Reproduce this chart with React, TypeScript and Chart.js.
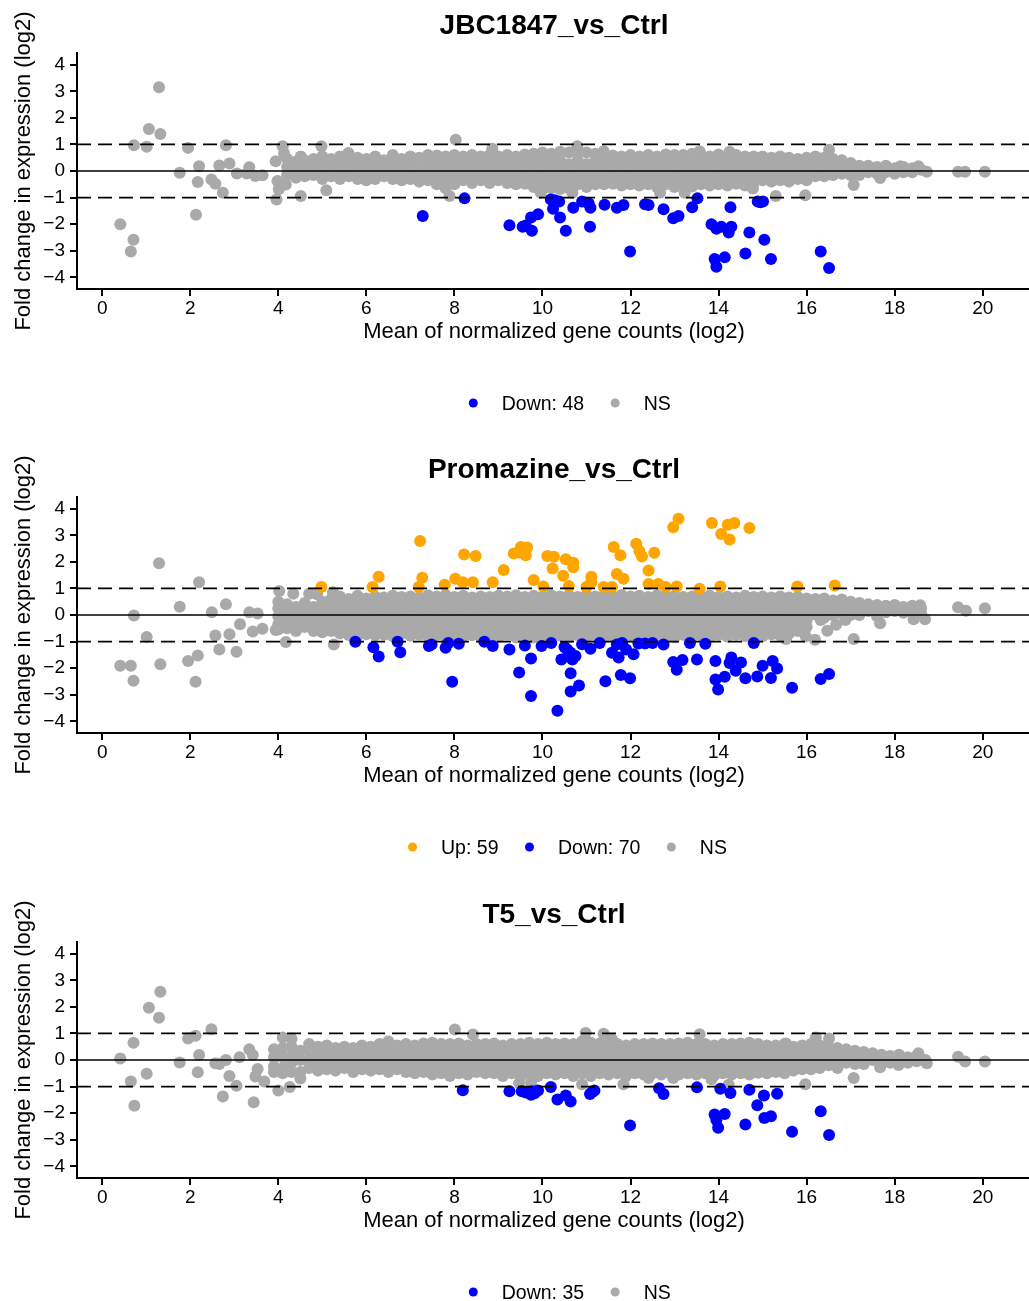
import React, { useEffect, useRef } from 'react';
import { Chart, registerables } from 'chart.js';

Chart.register(...registerables);

const FONT = "'Liberation Sans', Arial, Helvetica, sans-serif";
const COLOR_UP = '#FFA500';
const COLOR_DOWN = '#0000FF';
const COLOR_NS = '#A9A9A9';

// ---------- shared axis data ----------
const xTicks = [0, 2, 4, 6, 8, 10, 12, 14, 16, 18, 20];
const yTicks = [-4, -3, -2, -1, 0, 1, 2, 3, 4];
const xRange = [-0.573, 21.097];
const yRange = [-4.44, 4.44];
const refLines = [0, 1, -1];
const xLabel = 'Mean of normalized gene counts (log2)';
const yLabel = 'Fold change in expression (log2)';

type Pt = [number, number];

// ---------- JBC1847_vs_Ctrl ----------
const jbcTitle = 'JBC1847_vs_Ctrl';
const jbcLabels = ['Down: 48', 'NS'];
const jbcDown: Pt[] = [
  [7.28, -1.69], [8.23, -1.03], [9.25, -2.04], [9.55, -2.1], [9.62, -2.05], [9.76, -2.25], [9.74, -1.75], [9.9, -1.63],
  [10.19, -1.07], [10.28, -1.1], [10.38, -1.15], [10.24, -1.42], [10.4, -1.75], [10.53, -2.25], [10.7, -1.38], [10.9, -1.15],
  [11.09, -1.38], [11.08, -2.1], [11.05, -1.22], [11.41, -1.27], [11.69, -1.38], [11.84, -1.28], [11.99, -3.03], [12.33, -1.25],
  [12.41, -1.28], [12.75, -1.44], [12.97, -1.78], [13.09, -1.69], [13.4, -1.36], [13.52, -1.03], [13.84, -2.0], [13.95, -2.17],
  [14.06, -2.1], [14.23, -2.31], [14.27, -1.36], [14.29, -2.1], [13.91, -3.31], [13.95, -3.6], [14.14, -3.25], [14.61, -3.1],
  [14.7, -2.31], [14.89, -1.15], [14.95, -1.18], [15.01, -1.15], [15.04, -2.59], [15.19, -3.31], [16.32, -3.03], [16.51, -3.65],
];
const jbcNsSparse: Pt[] = [
  [0.41, -2.0], [0.71, -2.59], [0.65, -3.03], [0.72, 0.97], [1.01, 0.91], [1.06, 1.58], [1.29, 3.15], [1.32, 1.39],
  [1.76, -0.07], [1.95, 0.87], [2.13, -1.65], [2.17, -0.41], [2.2, 0.18], [2.48, -0.32], [2.57, -0.48], [2.66, 0.21],
  [2.74, -0.82], [2.81, 0.97], [2.89, 0.28], [3.06, -0.09], [3.28, -0.09], [3.34, 0.14], [3.48, -0.19], [3.64, -0.16],
  [3.94, 0.37], [3.98, -0.38], [4.01, -0.69], [3.96, -1.07], [4.1, 0.93], [4.17, -0.51], [4.13, 0.66], [4.51, -0.94],
  [4.51, 0.55], [4.98, 0.93], [5.09, -0.72], [5.59, 0.68], [7.89, -0.94], [8.03, 1.18], [8.86, 0.84], [10.79, 0.93],
  [11.39, 0.74], [9.96, -0.82], [10.68, -0.82], [12.67, -0.82], [13.23, -0.82], [13.57, 0.74], [14.25, 0.72], [14.78, -0.66],
  [15.3, -0.94], [15.97, -0.91], [16.51, 0.8], [17.07, -0.53], [17.67, -0.26], [18.13, 0.18], [18.54, 0.18], [18.73, -0.03],
  [19.44, -0.03], [19.6, -0.03], [20.05, -0.03],
];
// dense NS cloud, one column per x: [x, y1, y2, ...]
const jbcNsCloud: number[][] = [
  [4.2, 0.45, 0.15, -0.15], [4.4, 0.35, 0.05, -0.25], [4.6, 0.4, 0.1, -0.2], [4.8, 0.45, 0.15, -0.15],
  [5.0, 0.55, 0.25, -0.05, -0.3], [5.2, 0.45, 0.1, -0.2], [5.4, 0.55, 0.25, -0.05, -0.3], [5.6, 0.45, 0.1, -0.2],
  [5.8, 0.5, 0.25, -0.05, -0.3], [6.0, 0.45, 0.1, -0.2, -0.35], [6.2, 0.55, 0.25, -0.05, -0.3], [6.4, 0.4, 0.1, -0.2],
  [6.6, 0.6, 0.25, -0.05, -0.3], [6.8, 0.45, 0.1, -0.2, -0.35], [7.0, 0.55, 0.25, -0.05, -0.3], [7.2, 0.5, 0.1, -0.2, -0.4],
  [7.4, 0.6, 0.25, -0.05, -0.35], [7.6, 0.58, 0.4, 0.1, -0.2, -0.5], [7.8, 0.55, 0.25, -0.05, -0.35, -0.65],
  [8.0, 0.6, 0.4, 0.1, -0.2, -0.5], [8.2, 0.55, 0.25, -0.05, -0.35], [8.4, 0.6, 0.4, 0.1, -0.2, -0.45],
  [8.6, 0.55, 0.25, -0.05, -0.35], [8.8, 0.6, 0.4, 0.1, -0.2, -0.45], [9.0, 0.55, 0.25, -0.05, -0.35],
  [9.2, 0.6, 0.4, 0.1, -0.2, -0.45], [9.4, 0.55, 0.25, -0.05, -0.35, -0.5], [9.6, 0.62, 0.4, 0.1, -0.2, -0.48],
  [9.8, 0.65, 0.25, -0.05, -0.35, -0.6], [10.0, 0.7, 0.4, 0.1, -0.2, -0.5, -0.7], [10.2, 0.65, 0.25, -0.05, -0.35, -0.65],
  [10.4, 0.72, 0.4, 0.1, -0.2, -0.5, -0.68], [10.6, 0.7, 0.25, -0.05, -0.35, -0.65], [10.8, 0.75, 0.4, 0.1, -0.2, -0.5],
  [11.0, 0.7, 0.25, -0.05, -0.35, -0.6], [11.2, 0.65, 0.4, 0.1, -0.2, -0.5], [11.4, 0.6, 0.25, -0.05, -0.35, -0.5],
  [11.6, 0.58, 0.4, 0.1, -0.2, -0.48], [11.8, 0.55, 0.25, -0.05, -0.35, -0.55], [12.0, 0.6, 0.4, 0.1, -0.2, -0.5],
  [12.2, 0.55, 0.25, -0.05, -0.35, -0.55], [12.4, 0.6, 0.4, 0.1, -0.2, -0.5], [12.6, 0.55, 0.25, -0.05, -0.35, -0.6],
  [12.8, 0.62, 0.4, 0.1, -0.2, -0.5], [13.0, 0.6, 0.25, -0.05, -0.35, -0.6], [13.2, 0.6, 0.4, 0.1, -0.2, -0.5],
  [13.4, 0.65, 0.25, -0.05, -0.35, -0.58], [13.6, 0.6, 0.4, 0.1, -0.2, -0.5], [13.8, 0.55, 0.25, -0.05, -0.35, -0.55],
  [14.0, 0.62, 0.4, 0.1, -0.2, -0.5], [14.2, 0.55, 0.25, -0.05, -0.35, -0.55], [14.4, 0.6, 0.4, 0.1, -0.2, -0.48],
  [14.6, 0.55, 0.25, -0.05, -0.35, -0.55], [14.8, 0.55, 0.4, 0.1, -0.2, -0.45], [15.0, 0.55, 0.25, -0.05, -0.35],
  [15.2, 0.5, 0.35, 0.1, -0.2, -0.4], [15.4, 0.55, 0.25, -0.05, -0.35], [15.6, 0.5, 0.35, 0.1, -0.2, -0.4],
  [15.8, 0.45, 0.25, -0.05, -0.3], [16.0, 0.5, 0.35, 0.1, -0.2, -0.35], [16.2, 0.55, 0.25, -0.05, -0.2],
  [16.4, 0.5, 0.3, 0.05, -0.2], [16.6, 0.45, 0.2, -0.05, -0.15], [16.8, 0.4, 0.15, -0.1], [17.0, 0.3, 0.05, -0.15],
  [17.2, 0.2, -0.05, -0.15], [17.4, 0.2, -0.05], [17.6, 0.15, -0.1], [17.8, 0.2, -0.05], [18.0, 0.1, -0.1],
  [18.2, 0.15, -0.05], [18.4, 0.1, -0.05], [18.6, 0.05],
];

// ---------- Promazine_vs_Ctrl ----------
const promTitle = 'Promazine_vs_Ctrl';
const promLabels = ['Up: 59', 'Down: 70', 'NS'];
const promUp: Pt[] = [
  [4.98, 1.05], [6.14, 1.05], [6.28, 1.44], [7.22, 2.78], [7.27, 1.4], [7.19, 1.05], [7.78, 1.14], [8.02, 1.36],
  [8.22, 2.28], [8.48, 2.22], [8.19, 1.23], [8.42, 1.23], [8.87, 1.23], [9.12, 1.69], [9.35, 2.31], [9.48, 2.35],
  [9.51, 2.56], [9.65, 2.54], [9.62, 2.25], [9.8, 1.32], [10.02, 1.07], [10.11, 2.22], [10.26, 2.19], [10.23, 1.75],
  [10.47, 1.48], [10.53, 2.1], [10.7, 1.97], [10.7, 1.8], [10.6, 1.09], [11.0, 1.05], [11.11, 1.44], [11.11, 1.23],
  [11.39, 1.05], [11.62, 2.56], [11.77, 2.25], [11.69, 1.54], [11.84, 1.36], [11.58, 1.05], [12.13, 2.68], [12.2, 2.41],
  [12.26, 2.2], [12.54, 2.34], [12.41, 1.67], [12.41, 1.17], [12.63, 1.17], [12.8, 1.05], [12.97, 3.3], [13.09, 3.62],
  [13.05, 1.07], [13.57, 0.99], [13.85, 3.46], [14.21, 3.4], [14.36, 3.46], [14.06, 3.05], [14.25, 2.84], [14.7, 3.27],
  [14.04, 1.07], [15.79, 1.07], [16.64, 1.11],
];
const promDown: Pt[] = [
  [5.75, -1.01], [6.16, -1.21], [6.28, -1.56], [6.71, -1.01], [6.77, -1.4], [7.42, -1.17], [7.48, -1.11], [7.8, -1.23],
  [7.86, -1.05], [7.95, -2.51], [8.1, -1.08], [8.68, -1.01], [8.87, -1.17], [9.25, -1.3], [9.47, -2.16], [9.6, -1.15],
  [9.74, -1.64], [9.74, -3.05], [9.98, -1.17], [10.2, -1.05], [10.34, -3.6], [10.43, -1.67], [10.5, -1.2], [10.56, -1.3],
  [10.64, -1.42], [10.68, -1.67], [10.75, -1.54], [10.64, -2.19], [10.83, -2.65], [10.64, -2.88], [10.9, -1.1], [11.09, -1.27],
  [11.3, -1.05], [11.43, -2.49], [11.58, -1.42], [11.69, -1.11], [11.73, -1.6], [11.81, -1.05], [11.78, -2.26], [11.9, -1.3],
  [11.99, -2.38], [12.07, -1.48], [12.18, -1.07], [12.33, -1.07], [12.5, -1.05], [12.75, -1.11], [12.97, -1.77], [13.18, -1.69],
  [13.05, -2.06], [13.35, -1.05], [13.51, -1.67], [13.7, -1.08], [13.93, -1.73], [14.29, -1.6], [14.25, -1.81], [14.51, -1.79],
  [14.39, -2.1], [13.93, -2.43], [13.99, -2.8], [14.14, -2.32], [14.61, -2.38], [14.8, -1.05], [14.88, -2.31], [15.0, -1.91],
  [15.23, -1.73], [15.33, -2.01], [15.19, -2.37], [15.67, -2.74], [16.32, -2.41], [16.51, -2.22],
];
const promNsSparse: Pt[] = [
  [0.72, -0.02], [1.29, 1.95], [2.2, 1.23], [1.76, 0.31], [2.49, 0.1], [2.81, 0.4], [1.01, -0.83], [0.41, -1.91],
  [0.65, -1.91], [0.71, -2.47], [1.32, -1.85], [1.95, -1.73], [2.17, -1.52], [2.12, -2.51], [2.57, -0.77], [2.66, -1.3],
  [2.89, -0.72], [3.05, -1.38], [3.13, -0.35], [3.34, 0.1], [3.53, 0.06], [3.42, -0.62], [3.64, -0.52], [4.02, 0.9],
  [4.34, 0.8], [4.17, -1.02], [3.94, -0.56], [4.7, 0.8], [4.88, 0.78], [5.26, -1.11], [5.24, 0.86], [19.44, 0.29],
  [19.62, 0.16], [20.05, 0.25], [18.69, -0.16], [18.43, -0.16], [18.58, 0.37], [17.67, -0.31], [17.07, -0.9], [16.47, -0.59],
  [16.67, -0.37], [16.19, -0.93], [16.32, -0.19], [16.88, -0.19], [15.53, -0.9], [15.98, -0.8],
];
const promNsCloud: number[][] = [
  [4.0, 0.5, 0.25, -0.05, -0.35, -0.55], [4.2, 0.4, 0.1, -0.2, -0.5], [4.4, 0.3, 0.0, -0.3, -0.6],
  [4.6, 0.45, 0.15, -0.15, -0.45], [4.8, 0.3, 0.0, -0.3, -0.6], [5.0, 0.5, 0.2, -0.1, -0.4, -0.65],
  [5.2, 0.6, 0.3, 0.0, -0.3, -0.6], [5.4, 0.7, 0.45, 0.15, -0.15, -0.45, -0.7], [5.6, 0.6, 0.3, 0.0, -0.3, -0.6, -0.75],
  [5.8, 0.72, 0.52, 0.24, -0.04, -0.32, -0.6, -0.78], [6.0, 0.62, 0.38, 0.1, -0.18, -0.46, -0.72],
  [6.2, 0.7, 0.52, 0.24, -0.04, -0.32, -0.6, -0.75], [6.4, 0.66, 0.38, 0.1, -0.18, -0.46, -0.74],
  [6.6, 0.72, 0.52, 0.24, -0.04, -0.32, -0.6, -0.8], [6.8, 0.68, 0.38, 0.1, -0.18, -0.46, -0.7],
  [7.0, 0.7, 0.52, 0.24, -0.04, -0.32, -0.6, -0.78], [7.2, 0.66, 0.38, 0.1, -0.18, -0.46, -0.74],
  [7.4, 0.74, 0.52, 0.24, -0.04, -0.32, -0.6, -0.8], [7.6, 0.7, 0.38, 0.1, -0.18, -0.46, -0.74],
  [7.8, 0.75, 0.52, 0.24, -0.04, -0.32, -0.6, -0.82], [8.0, 0.68, 0.38, 0.1, -0.18, -0.46, -0.74],
  [8.2, 0.72, 0.52, 0.24, -0.04, -0.32, -0.6, -0.8], [8.4, 0.66, 0.38, 0.1, -0.18, -0.46, -0.76],
  [8.6, 0.7, 0.52, 0.24, -0.04, -0.32, -0.6, -0.82], [8.8, 0.68, 0.38, 0.1, -0.18, -0.46, -0.76],
  [9.0, 0.72, 0.52, 0.24, -0.04, -0.32, -0.6, -0.84], [9.2, 0.7, 0.38, 0.1, -0.18, -0.46, -0.74],
  [9.4, 0.74, 0.52, 0.24, -0.04, -0.32, -0.6, -0.85], [9.6, 0.68, 0.38, 0.1, -0.18, -0.46, -0.74],
  [9.8, 0.72, 0.52, 0.24, -0.04, -0.32, -0.6, -0.85], [10.0, 0.7, 0.38, 0.1, -0.18, -0.46, -0.76],
  [10.2, 0.74, 0.52, 0.24, -0.04, -0.32, -0.6, -0.86], [10.4, 0.7, 0.38, 0.1, -0.18, -0.46, -0.78],
  [10.6, 0.72, 0.52, 0.24, -0.04, -0.32, -0.6, -0.85], [10.8, 0.68, 0.38, 0.1, -0.18, -0.46, -0.76],
  [11.0, 0.74, 0.52, 0.24, -0.04, -0.32, -0.6, -0.85], [11.2, 0.7, 0.38, 0.1, -0.18, -0.46, -0.76],
  [11.4, 0.72, 0.52, 0.24, -0.04, -0.32, -0.6, -0.84], [11.6, 0.7, 0.38, 0.1, -0.18, -0.46, -0.78],
  [11.8, 0.75, 0.52, 0.24, -0.04, -0.32, -0.6, -0.86], [12.0, 0.7, 0.38, 0.1, -0.18, -0.46, -0.76],
  [12.2, 0.72, 0.52, 0.24, -0.04, -0.32, -0.6, -0.84], [12.4, 0.68, 0.38, 0.1, -0.18, -0.46, -0.76],
  [12.6, 0.74, 0.52, 0.24, -0.04, -0.32, -0.6, -0.85], [12.8, 0.7, 0.38, 0.1, -0.18, -0.46, -0.76],
  [13.0, 0.72, 0.52, 0.24, -0.04, -0.32, -0.6, -0.84], [13.2, 0.68, 0.38, 0.1, -0.18, -0.46, -0.74],
  [13.4, 0.7, 0.52, 0.24, -0.04, -0.32, -0.6, -0.82], [13.6, 0.7, 0.38, 0.1, -0.18, -0.46, -0.76],
  [13.8, 0.72, 0.52, 0.24, -0.04, -0.32, -0.6, -0.84], [14.0, 0.68, 0.38, 0.1, -0.18, -0.46, -0.74],
  [14.2, 0.7, 0.52, 0.24, -0.04, -0.32, -0.6, -0.82], [14.4, 0.66, 0.38, 0.1, -0.18, -0.46, -0.74],
  [14.6, 0.72, 0.52, 0.24, -0.04, -0.32, -0.6, -0.8], [14.8, 0.68, 0.38, 0.1, -0.18, -0.46, -0.74],
  [15.0, 0.7, 0.52, 0.24, -0.04, -0.32, -0.6, -0.8], [15.2, 0.66, 0.38, 0.1, -0.18, -0.46, -0.72],
  [15.4, 0.7, 0.52, 0.24, -0.04, -0.32, -0.6, -0.78], [15.6, 0.66, 0.38, 0.1, -0.18, -0.46, -0.7],
  [15.8, 0.68, 0.5, 0.24, -0.04, -0.32, -0.6], [16.0, 0.62, 0.35, 0.08, -0.2, -0.45],
  [16.2, 0.6, 0.3, 0.02], [16.4, 0.62, 0.35, 0.08, -0.1], [16.6, 0.55, 0.28, 0.0], [16.8, 0.58, 0.3, 0.05],
  [17.0, 0.5, 0.25, 0.0], [17.2, 0.45, 0.2, 0.0], [17.4, 0.4, 0.15], [17.6, 0.38, 0.12, -0.05], [17.8, 0.35, 0.1],
  [18.0, 0.38, 0.15], [18.2, 0.3, 0.08], [18.4, 0.35, 0.1], [18.6, 0.25, 0.05],
];

// ---------- T5_vs_Ctrl ----------
const t5Title = 'T5_vs_Ctrl';
const t5Labels = ['Down: 35', 'NS'];
const t5Down: Pt[] = [
  [8.19, -1.14], [9.25, -1.18], [9.53, -1.18], [9.62, -1.22], [9.74, -1.31], [9.77, -1.18], [9.82, -1.25], [9.9, -1.15],
  [10.19, -1.02], [10.34, -1.49], [10.53, -1.34], [10.64, -1.56], [11.08, -1.28], [11.13, -1.2], [11.18, -1.15], [11.99, -2.46],
  [12.65, -1.06], [12.75, -1.28], [13.51, -1.03], [14.04, -1.08], [14.27, -1.24], [13.91, -2.05], [13.99, -2.55], [14.14, -2.03],
  [13.95, -2.26], [14.61, -2.43], [14.7, -1.12], [14.88, -1.7], [15.03, -1.34], [15.04, -2.18], [15.19, -2.12], [15.33, -1.27],
  [15.67, -2.7], [16.32, -1.93], [16.51, -2.82],
];
const t5NsSparse: Pt[] = [
  [0.41, 0.06], [0.71, 0.65], [0.65, -0.81], [0.73, -1.72], [1.01, -0.52], [1.06, 1.97], [1.29, 1.59], [1.32, 2.57],
  [1.76, -0.09], [1.95, 0.81], [2.12, 0.91], [2.17, -0.46], [2.2, 0.19], [2.48, 1.16], [2.57, -0.12], [2.66, -0.15],
  [2.74, -1.37], [2.81, 0.0], [2.89, -0.6], [3.05, -0.97], [3.12, 0.1], [3.34, 0.4], [3.42, 0.19], [3.44, -1.59],
  [3.53, -0.34], [3.48, -0.62], [3.68, -0.81], [4.0, -1.15], [4.26, -1.02], [8.01, 1.15], [8.42, 0.96], [10.98, 1.02],
  [11.39, 0.99], [11.58, 0.77], [13.57, 0.97], [16.21, 0.85], [16.51, 0.81], [15.53, 0.62], [17.07, -0.68], [15.97, -0.91],
  [17.67, -0.27], [18.09, -0.19], [19.44, 0.12], [19.6, -0.06], [20.05, -0.06], [18.73, -0.12], [18.54, 0.25], [9.47, -0.87],
  [9.74, -0.85], [10.9, -0.91], [11.84, -0.91], [12.41, -0.68], [13.84, -0.72], [14.23, -0.93], [12.97, -0.68],
];
const t5NsCloud: number[][] = [
  [3.9, 0.4, 0.1, -0.25, -0.45], [4.1, 0.85, 0.45, 0.1, -0.3, -0.5], [4.3, 0.8, 0.5, 0.15, -0.1, -0.45],
  [4.5, 0.35, 0.0, -0.45, -0.7], [4.7, 0.6, 0.3, 0.0, -0.3], [4.9, 0.5, 0.2, -0.1, -0.4], [5.1, 0.55, 0.25, -0.05, -0.35],
  [5.3, 0.45, 0.15, -0.15, -0.4], [5.5, 0.5, 0.25, -0.05, -0.3], [5.7, 0.45, 0.1, -0.2, -0.45],
  [5.9, 0.55, 0.25, -0.05, -0.35], [6.1, 0.5, 0.1, -0.2, -0.4], [6.3, 0.6, 0.25, -0.05, -0.35],
  [6.5, 0.7, 0.4, 0.1, -0.2, -0.45], [6.7, 0.55, 0.25, -0.05, -0.35], [6.9, 0.6, 0.4, 0.1, -0.2, -0.45],
  [7.1, 0.55, 0.25, -0.05, -0.35, -0.5], [7.3, 0.62, 0.4, 0.1, -0.2, -0.45], [7.5, 0.65, 0.25, -0.05, -0.35, -0.55],
  [7.7, 0.6, 0.4, 0.1, -0.2, -0.5], [7.9, 0.6, 0.25, -0.05, -0.35, -0.6], [8.1, 0.62, 0.4, 0.1, -0.2, -0.5],
  [8.3, 0.55, 0.25, -0.05, -0.35, -0.55], [8.5, 0.6, 0.4, 0.1, -0.2, -0.45], [8.7, 0.6, 0.25, -0.05, -0.35, -0.5],
  [8.9, 0.62, 0.4, 0.1, -0.2, -0.5], [9.1, 0.55, 0.25, -0.05, -0.35, -0.6], [9.3, 0.6, 0.4, 0.1, -0.2, -0.5],
  [9.5, 0.6, 0.25, -0.05, -0.35, -0.62], [9.7, 0.65, 0.4, 0.1, -0.2, -0.5], [9.9, 0.6, 0.25, -0.05, -0.35, -0.6],
  [10.1, 0.65, 0.4, 0.1, -0.2, -0.5], [10.3, 0.6, 0.25, -0.05, -0.35, -0.55], [10.5, 0.62, 0.4, 0.1, -0.2, -0.5],
  [10.7, 0.6, 0.25, -0.05, -0.35, -0.6], [10.9, 0.7, 0.4, 0.1, -0.2, -0.5], [11.1, 0.65, 0.25, -0.05, -0.35, -0.6],
  [11.3, 0.62, 0.4, 0.1, -0.2, -0.5], [11.5, 0.6, 0.25, -0.05, -0.35, -0.55], [11.7, 0.6, 0.4, 0.1, -0.2, -0.5],
  [11.9, 0.55, 0.25, -0.05, -0.35, -0.6], [12.1, 0.6, 0.4, 0.1, -0.2, -0.5], [12.3, 0.6, 0.25, -0.05, -0.35, -0.55],
  [12.5, 0.62, 0.4, 0.1, -0.2, -0.5], [12.7, 0.6, 0.25, -0.05, -0.35, -0.55], [12.9, 0.6, 0.4, 0.1, -0.2, -0.48],
  [13.1, 0.62, 0.25, -0.05, -0.35, -0.55], [13.3, 0.65, 0.4, 0.1, -0.2, -0.5], [13.5, 0.6, 0.25, -0.05, -0.35, -0.55],
  [13.7, 0.6, 0.4, 0.1, -0.2, -0.5], [13.9, 0.55, 0.25, -0.05, -0.35, -0.58], [14.1, 0.6, 0.4, 0.1, -0.2, -0.5],
  [14.3, 0.6, 0.25, -0.05, -0.35, -0.55], [14.5, 0.62, 0.4, 0.1, -0.2, -0.5], [14.7, 0.65, 0.25, -0.05, -0.35, -0.55],
  [14.9, 0.6, 0.4, 0.1, -0.2, -0.48], [15.1, 0.55, 0.25, -0.05, -0.35, -0.5], [15.3, 0.55, 0.4, 0.1, -0.2, -0.45],
  [15.5, 0.6, 0.25, -0.05, -0.35, -0.5], [15.7, 0.5, 0.35, 0.1, -0.2, -0.4], [15.9, 0.55, 0.25, -0.05, -0.35],
  [16.1, 0.6, 0.35, 0.1, -0.2, -0.35], [16.3, 0.55, 0.25, -0.05, -0.3], [16.5, 0.5, 0.3, 0.05, -0.2],
  [16.7, 0.45, 0.2, -0.05, -0.3], [16.9, 0.4, 0.15, -0.1], [17.1, 0.35, 0.1, -0.15], [17.3, 0.3, 0.05, -0.15],
  [17.5, 0.25, 0.0], [17.7, 0.2, -0.05], [17.9, 0.15, -0.1], [18.1, 0.2, -0.05], [18.3, 0.1, -0.1],
  [18.5, 0.15, -0.05], [18.7, 0.0],
];

// ---------- helpers ----------
const cloudPoints = (cols: number[][]): Pt[] =>
  cols.flatMap((c) => c.slice(1).map((y) => [c[0], y] as Pt));

interface Series { label: string; color: string; points: Pt[] }
interface PanelDef { title: string; series: Series[] }

const panels: PanelDef[] = [
  {
    title: jbcTitle,
    series: [
      { label: jbcLabels[0], color: COLOR_DOWN, points: jbcDown },
      { label: jbcLabels[1], color: COLOR_NS, points: [...jbcNsSparse, ...cloudPoints(jbcNsCloud)] },
    ],
  },
  {
    title: promTitle,
    series: [
      { label: promLabels[0], color: COLOR_UP, points: promUp },
      { label: promLabels[1], color: COLOR_DOWN, points: promDown },
      { label: promLabels[2], color: COLOR_NS, points: [...promNsSparse, ...cloudPoints(promNsCloud)] },
    ],
  },
  {
    title: t5Title,
    series: [
      { label: t5Labels[0], color: COLOR_DOWN, points: t5Down },
      { label: t5Labels[1], color: COLOR_NS, points: [...t5NsSparse, ...cloudPoints(t5NsCloud)] },
    ],
  },
];

const PANEL_TOPS = [0, 444, 889];
const CANVAS_W = 1037;
const CANVAS_H = 444;
const LEGEND_CX = 572;
const LEGEND_Y = 403;
const TITLE_BASELINE = 34;
const POINT_R = 6;

function MAPanel({ def }: { def: PanelDef }) {
  const ref = useRef<HTMLCanvasElement | null>(null);

  useEffect(() => {
    const canvas = ref.current;
    if (!canvas) return;

    const decor = {
      id: 'maDecor',
      afterDatasetsDraw(chart: any) {
        const { ctx, chartArea: a, scales } = chart;
        ctx.save();
        ctx.strokeStyle = '#000';
        ctx.lineWidth = 1.7;
        refLines.forEach((v) => {
          const y = scales.y.getPixelForValue(v);
          ctx.setLineDash(v === 0 ? [] : [14, 7]);
          ctx.beginPath();
          ctx.moveTo(a.left, y);
          ctx.lineTo(a.right, y);
          ctx.stroke();
        });
        ctx.restore();
      },
      afterDraw(chart: any) {
        const { ctx, chartArea: a } = chart;
        ctx.save();
        ctx.fillStyle = '#000';
        ctx.font = `bold 28px ${FONT}`;
        ctx.textAlign = 'center';
        ctx.textBaseline = 'alphabetic';
        ctx.fillText(def.title, (a.left + a.right) / 2, TITLE_BASELINE);

        ctx.font = `19.5px ${FONT}`;
        ctx.textAlign = 'left';
        const r = 4.5;
        const dotToText = 28.5;
        const textToDot = 31;
        const items = def.series.map((s) => ({ s, w: ctx.measureText(s.label).width }));
        let total = 0;
        items.forEach((it, i) => {
          total += r + dotToText + it.w + (i < items.length - 1 ? textToDot : 0);
        });
        let cx = LEGEND_CX - total / 2 + r;
        items.forEach((it) => {
          ctx.fillStyle = it.s.color;
          ctx.beginPath();
          ctx.arc(cx, LEGEND_Y, r, 0, Math.PI * 2);
          ctx.fill();
          ctx.fillStyle = '#000';
          ctx.fillText(it.s.label, cx + dotToText, LEGEND_Y + 7);
          cx += dotToText + it.w + textToDot;
        });
        ctx.restore();
      },
    };

    const tickFont = { family: FONT, size: 19 };
    const titleFont = { family: FONT, size: 22 };

    const chart = new Chart(canvas, {
      type: 'scatter',
      data: {
        datasets: def.series.map((s) => ({
          label: s.label,
          data: s.points.map(([x, y]) => ({ x, y })),
          backgroundColor: s.color,
          borderColor: s.color,
          pointBackgroundColor: s.color,
          pointBorderWidth: 0,
          pointRadius: POINT_R,
          pointHoverRadius: POINT_R,
        })),
      },
      options: {
        responsive: false,
        animation: false,
        events: [],
        layout: { padding: { top: 53, bottom: 95, left: 0, right: 0 } },
        plugins: {
          legend: { display: false },
          title: { display: false },
          tooltip: { enabled: false },
        },
        scales: {
          x: {
            type: 'linear',
            min: xRange[0],
            max: xRange[1],
            afterBuildTicks: (s: any) => {
              s.ticks = xTicks.map((v) => ({ value: v }));
            },
            afterFit: (s: any) => {
              s.height = 60;
            },
            grid: { drawOnChartArea: false, drawTicks: true, tickLength: 7, color: '#000', lineWidth: 2 },
            border: { display: true, color: '#000', width: 2 },
            ticks: {
              font: tickFont,
              color: '#000',
              padding: 1,
              autoSkip: false,
              maxRotation: 0,
              minRotation: 0,
              callback: (v: any) => String(v),
            },
            title: { display: true, text: xLabel, font: titleFont, color: '#000', padding: { top: 0, bottom: 4 } },
          },
          y: {
            type: 'linear',
            min: yRange[0],
            max: yRange[1],
            afterBuildTicks: (s: any) => {
              s.ticks = yTicks.map((v) => ({ value: v }));
            },
            afterFit: (s: any) => {
              s.width = 77;
            },
            grid: { drawOnChartArea: false, drawTicks: true, tickLength: 7, color: '#000', lineWidth: 2 },
            border: { display: true, color: '#000', width: 2 },
            ticks: {
              font: tickFont,
              color: '#000',
              padding: 5,
              autoSkip: false,
              callback: (v: any) => {
                const n = Number(v);
                return n < 0 ? '\u2212' + Math.abs(n) : String(n);
              },
            },
            title: { display: true, text: yLabel, font: titleFont, color: '#000', padding: { top: 11, bottom: 0 } },
          },
        },
      },
      plugins: [decor],
    } as any);

    return () => {
      chart.destroy();
    };
  }, [def]);

  return <canvas ref={ref} width={CANVAS_W} height={CANVAS_H} style={{ display: 'block' }} />;
}

export default function App() {
  return (
    <div
      style={{
        position: 'absolute',
        left: 0,
        top: 0,
        width: 1029,
        height: 1301,
        overflow: 'hidden',
        background: '#fff',
      }}
    >
      {panels.map((p, i) => (
        <div key={i} style={{ position: 'absolute', left: 0, top: PANEL_TOPS[i] }}>
          <MAPanel def={p} />
        </div>
      ))}
    </div>
  );
}
